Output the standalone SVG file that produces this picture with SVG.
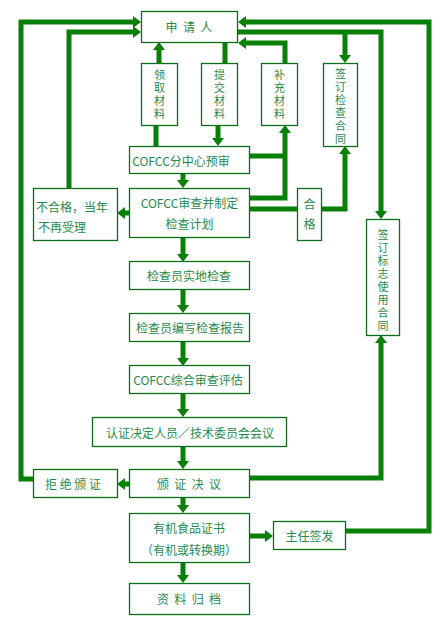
<svg xmlns="http://www.w3.org/2000/svg" width="446" height="620" viewBox="0 0 446 620">
<style>
.box{fill:#fff;stroke:#0b6e1a;stroke-width:1.3}
.t{font-family:"Noto Sans CJK SC","Noto Sans",sans-serif;font-size:12px;fill:#1f8a4c;text-anchor:middle;dominant-baseline:central}
.v{font-family:"Noto Sans CJK SC","Noto Sans",sans-serif;font-size:11px;fill:#1f8a4c;writing-mode:vertical-rl;text-anchor:start;letter-spacing:2px}
.c{fill:none;stroke:#088008;stroke-width:5}
</style>
<defs>
<marker id="ah" viewBox="0 0 8 12" markerWidth="8" markerHeight="12" refX="0" refY="6" markerUnits="userSpaceOnUse" orient="auto">
<path d="M0,0 L8,6 L0,12 z" fill="#088008"/>
</marker>
</defs>
<g id="connectors">
<path class="c" d="M33,479 H21 V22 H133" marker-end="url(#ah)"/>
<path class="c" d="M69,188 V32 H133" marker-end="url(#ah)"/>
<path class="c" d="M346,531 H429 V22 H246" marker-end="url(#ah)"/>
<path class="c" d="M238,32 H381 V211" marker-end="url(#ah)"/>
<path class="c" d="M345,32 V55" marker-end="url(#ah)"/>
<path class="c" d="M285,63 V43 H246" marker-end="url(#ah)"/>
<path class="c" d="M249,198 H285 V133" marker-end="url(#ah)"/>
<path class="c" d="M249,156 H285"/>
<path class="c" d="M249,209 H297"/>
<path class="c" d="M322,209 H345 V154" marker-end="url(#ah)"/>
<path class="c" d="M129,213 H125" marker-end="url(#ah)"/>
<path class="c" d="M156,146 V125"/>
<path class="c" d="M159,63 V50" marker-end="url(#ah)"/>
<path class="c" d="M225,42 V63"/>
<path class="c" d="M218,125 V138" marker-end="url(#ah)"/>
<path class="c" d="M183,173 V180" marker-end="url(#ah)"/>
<path class="c" d="M183,237 V254" marker-end="url(#ah)"/>
<path class="c" d="M183,289 V305" marker-end="url(#ah)"/>
<path class="c" d="M183,341 V358" marker-end="url(#ah)"/>
<path class="c" d="M183,393 V409" marker-end="url(#ah)"/>
<path class="c" d="M183,446 V461" marker-end="url(#ah)"/>
<path class="c" d="M183,497 V505" marker-end="url(#ah)"/>
<path class="c" d="M183,562 V575" marker-end="url(#ah)"/>
<path class="c" d="M129,484 H125" marker-end="url(#ah)"/>
<path class="c" d="M249,478 H381 V343" marker-end="url(#ah)"/>
<path class="c" d="M249,536 H265" marker-end="url(#ah)"/>
</g>
<g id="applicant"><rect class="box" x="141.5" y="11.5" width="96" height="31"/><text class="t" x="189" y="26" xml:space="preserve">申  请  人</text></g>
<g id="lingqu"><rect class="box" x="141.5" y="63.5" width="36" height="62"/><text class="v" x="159.5" y="69">领取材料</text></g>
<g id="tijiao"><rect class="box" x="201.5" y="63.5" width="36" height="62"/><text class="v" x="219.5" y="69">提交材料</text></g>
<g id="buchong"><rect class="box" x="261.5" y="63.5" width="36" height="62"/><text class="v" x="279.5" y="69">补充材料</text></g>
<g id="jiancha-hetong"><rect class="box" x="323.5" y="63.5" width="34" height="83"/><text class="v" x="340.5" y="68">签订检查合同</text></g>
<g id="yushen"><rect class="box" x="129.5" y="146.5" width="120" height="27"/><text class="t" x="181" y="160">COFCC分中心预审</text></g>
<g id="shencha"><rect class="box" x="129.5" y="188.5" width="120" height="49"/><text class="t" x="189.5" y="202">COFCC审查并制定</text><text class="t" x="189.5" y="223">检查计划</text></g>
<g id="buhege"><rect class="box" x="33.5" y="188.5" width="84" height="52"/><text class="t" x="72" y="206">不合格，当年</text><text class="t" x="62" y="226">不再受理</text></g>
<g id="hege"><rect class="box" x="297.5" y="188.5" width="24" height="52"/><text class="t" x="309.5" y="203">合</text><text class="t" x="309.5" y="223">格</text></g>
<g id="biaozhi-hetong"><rect class="box" x="366.5" y="219.5" width="33" height="116"/><text class="v" x="383" y="229">签订标志使用合同</text></g>
<g id="shidi"><rect class="box" x="129.5" y="261.5" width="120" height="28"/><text class="t" x="189" y="275">检查员实地检查</text></g>
<g id="baogao"><rect class="box" x="129.5" y="313.5" width="120" height="28"/><text class="t" x="190" y="327">检查员编写检查报告</text></g>
<g id="zonghe"><rect class="box" x="129.5" y="365.5" width="120" height="28"/><text class="t" x="188" y="379">COFCC综合审查评估</text></g>
<g id="jueding"><rect class="box" x="92.5" y="417.5" width="194" height="29"/><text class="t" x="190" y="432">认证决定人员／技术委员会会议</text></g>
<g id="banzheng"><rect class="box" x="129.5" y="469.5" width="120" height="28"/><text class="t" x="189" y="483" xml:space="preserve">颁  证  决  议</text></g>
<g id="jujue"><rect class="box" x="33.5" y="469.5" width="84" height="28"/><text class="t" x="73" y="483" xml:space="preserve">拒 绝 颁 证</text></g>
<g id="zhengshu"><rect class="box" x="129.5" y="513.5" width="120" height="49"/><text class="t" x="189" y="527">有机食品证书</text><text class="t" x="189" y="549">（有机或转换期）</text></g>
<g id="zhuren"><rect class="box" x="273.5" y="521.5" width="72" height="28"/><text class="t" x="309.5" y="535">主任签发</text></g>
<g id="guidang"><rect class="box" x="129.5" y="583.5" width="120" height="31"/><text class="t" x="189" y="598" xml:space="preserve">资  料  归  档</text></g>
</svg>
